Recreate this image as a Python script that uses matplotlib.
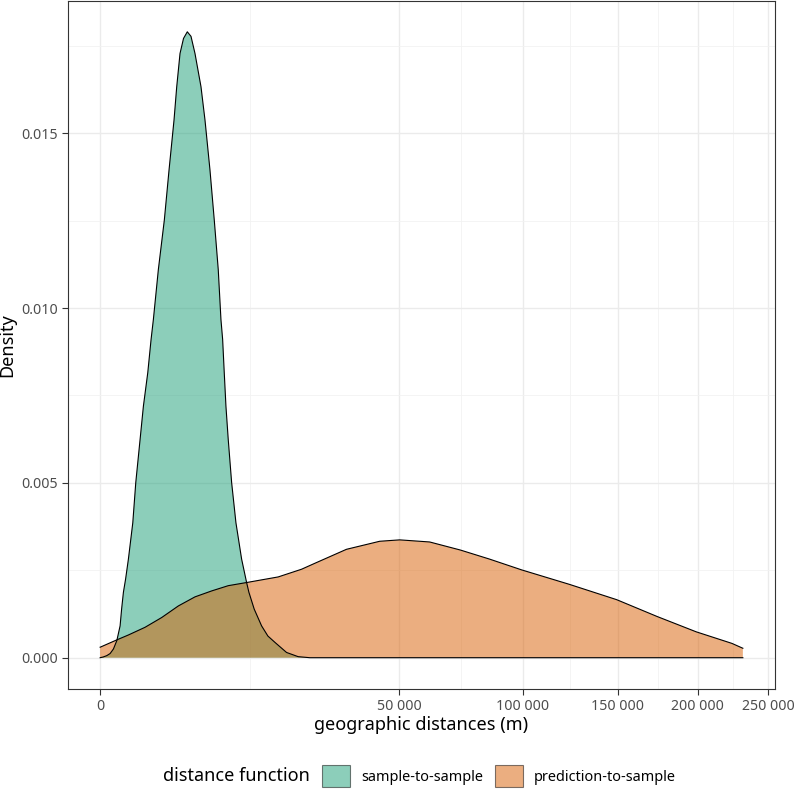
import numpy as np
import matplotlib
matplotlib.use("Agg")
import matplotlib.pyplot as plt
from matplotlib.patches import Patch
from matplotlib.ticker import FixedLocator, FuncFormatter

plt.rcParams['font.family'] = ['Noto Sans', 'DejaVu Sans']

# values (distance in m, density)
s2s_dist = [0, 5, 25, 56, 99, 156, 223, 258, 303, 363, 447, 597, 711, 893, 1047,
            1270, 1452, 1586, 1897, 2308, 2658, 3057, 3284, 3572, 3892, 4254, 4622,
            5037, 5694, 6154, 6754, 7292, 7811, 8172, 8403, 8625, 8862, 9188, 9681,
            10324, 11207, 12012, 12392, 13290, 14595, 15754, 17094, 19455, 21950,
            24615, 40000, 100000, 231274]
s2s_dens = [0.0, 0.00002, 0.00006, 0.00012, 0.00025, 0.00049, 0.00091, 0.00139,
            0.00187, 0.00225, 0.00282, 0.00386, 0.00501, 0.00624, 0.00719, 0.00815,
            0.00910, 0.00967, 0.01110, 0.01252, 0.01395, 0.01538, 0.01633, 0.01728,
            0.01771, 0.01790, 0.01777, 0.01728, 0.01633, 0.01538, 0.01395, 0.01252,
            0.01110, 0.00967, 0.00910, 0.00815, 0.00719, 0.00624, 0.00501, 0.00386,
            0.00282, 0.00215, 0.00187, 0.00139, 0.00091, 0.00062, 0.00044, 0.00015,
            0.00003, 0.0, 0.0, 0.0, 0.0]

p2s_dist = [0, 156, 447, 1130, 2125, 3422, 5037, 6964, 9188, 12012, 17745, 22708,
            25802, 33971, 43760, 50234, 60782, 72619, 84897, 99541, 123145, 149367,
            173605, 198934, 223436, 231274]
p2s_dens = [0.00030, 0.00051, 0.00065, 0.00087, 0.00115, 0.00148, 0.00174, 0.00191,
            0.00206, 0.00215, 0.00231, 0.00253, 0.00270, 0.00310, 0.00333, 0.00337,
            0.00331, 0.00308, 0.00282, 0.00251, 0.00210, 0.00166, 0.00118, 0.00074,
            0.00041, 0.00027]

groups = ["sample-to-sample", "prediction-to-sample"]
colors = ["#1B9E77", "#D95F02"]
x_ticks = [0, 50000, 100000, 150000, 200000, 250000]
y_ticks = [0.000, 0.005, 0.010, 0.015]


def fwd(x):
    x = np.asarray(x, dtype=float)
    return np.sign(x) * np.sqrt(np.abs(x))


def inv(x):
    x = np.asarray(x, dtype=float)
    return np.sign(x) * x ** 2


fig = plt.figure(figsize=(8, 8), dpi=100)
ax = fig.add_axes([68 / 800, 1 - 689 / 800, (775 - 68) / 800, 688.5 / 800])
ax.set_xscale('function', functions=(fwd, inv))

for dist, dens, col in [(s2s_dist, s2s_dens, colors[0]), (p2s_dist, p2s_dens, colors[1])]:
    ax.fill_between(dist, 0, dens, facecolor=col, alpha=0.5, lw=0, zorder=2)
    ax.plot(dist, dens, color="black", lw=0.8, zorder=3, solid_joinstyle="round")

# ggplot-like expansion in sqrt space
s_max = np.sqrt(max(max(s2s_dist), max(p2s_dist)))
pad = 0.05 * s_max
ax.set_xlim(-pad ** 2, (s_max + pad) ** 2)
y_max = max(max(s2s_dens), max(p2s_dens))
ax.set_ylim(-0.05 * y_max, 1.05 * y_max)

sq = np.sqrt(x_ticks)
x_minor = list(((sq[:-1] + sq[1:]) / 2) ** 2)
y_minor = [0.0025, 0.0075, 0.0125, 0.0175]
ax.xaxis.set_major_locator(FixedLocator(x_ticks))
ax.xaxis.set_minor_locator(FixedLocator(x_minor))
ax.yaxis.set_major_locator(FixedLocator(y_ticks))
ax.yaxis.set_minor_locator(FixedLocator(y_minor))
ax.xaxis.set_major_formatter(FuncFormatter(lambda v, p: "{:,}".format(int(round(v))).replace(",", " ")))
ax.yaxis.set_major_formatter(FuncFormatter(lambda v, p: "{:.3f}".format(v)))

ax.grid(which="major", color="#EBEBEB", lw=1.0, zorder=0)
ax.grid(which="minor", color="#F2F2F2", lw=0.6, zorder=0)
ax.set_axisbelow(True)
ax.tick_params(which="major", length=4, width=0.8, color="#333333", labelcolor="#4D4D4D",
               labelsize=10.2, pad=3)
ax.tick_params(which="minor", length=0)
for sp in ax.spines.values():
    sp.set_color("#333333")
    sp.set_linewidth(0.8)

ax.set_xlabel("geographic distances (m)", fontsize=13, labelpad=2)
ax.set_ylabel("Density", fontsize=13)
ax.yaxis.set_label_coords(-0.073, 0.5)

handles = [Patch(facecolor=c, alpha=0.5, edgecolor="black", lw=0.8) for c in colors]
fig.text(163 / 800, 1 - 776 / 800, "distance function", fontsize=13, va="center", ha="left")
leg = fig.legend(handles, groups, ncol=2, loc="center left", bbox_to_anchor=(322 / 800, 1 - 776 / 800),
                 frameon=False, fontsize=10.4, handlelength=1.95, handleheight=1.95,
                 handletextpad=0.75, columnspacing=0.8, borderaxespad=0, borderpad=0)
for h in leg.legend_handles:
    h.set_edgecolor("black")

fig.savefig("out.png", dpi=100)
